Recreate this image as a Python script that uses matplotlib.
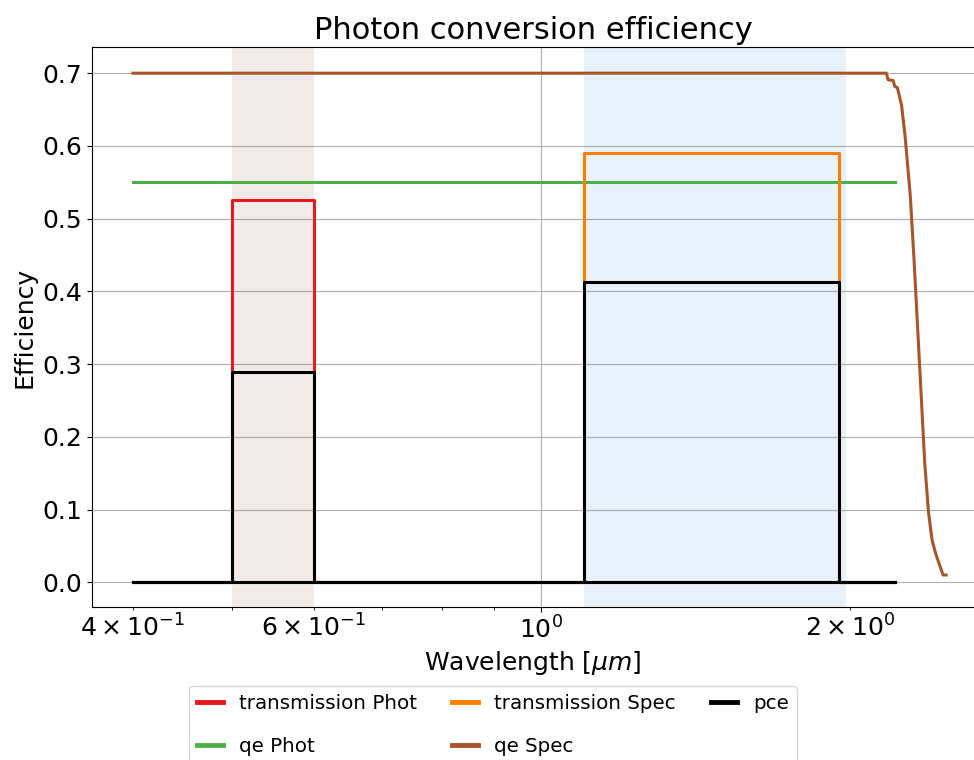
import numpy as np
import matplotlib
matplotlib.use("Agg")
import matplotlib.pyplot as plt

# filter bands [um]
phot_band = (0.5, 0.6)
spec_band = (1.1, 1.98)

# transmission curves on a common wavelength grid [um]
wl = [0.4, 0.5, 0.5, 0.6, 0.6, 1.1, 1.1, 1.95, 1.95, 2.21]
trans_phot = [0, 0, 0.525, 0.525, 0, 0, 0, 0, 0, 0]
trans_spec = [0, 0, 0, 0, 0, 0, 0.59, 0.59, 0, 0]
qe_phot = [0.55] * len(wl)
qe_spec_grid = [0.7] * len(wl)

# detector qe for the spectrometer, with cutoff
wl_qe_spec = [0.4, 2.169, 2.177, 2.202, 2.210, 2.223, 2.244, 2.262, 2.288, 2.307,
              2.326, 2.345, 2.364, 2.384, 2.403, 2.423, 2.449, 2.463, 2.48]
qe_spec = [0.70, 0.70, 0.691, 0.690, 0.682, 0.680, 0.656, 0.613, 0.533, 0.447,
           0.352, 0.257, 0.163, 0.096, 0.058, 0.039, 0.020, 0.010, 0.010]

pce_phot = np.array(trans_phot) * np.array(qe_phot)
pce_spec = np.array(trans_spec) * np.array(qe_spec_grid)

fig = plt.figure(figsize=(9.74, 7.6), dpi=100)
ax = fig.add_axes([92 / 974, 1 - 607 / 760, 1 - 92 / 974, (607 - 47) / 760])

ax.axvspan(*phot_band, color='#8c564b', alpha=0.12, lw=0)
ax.axvspan(*spec_band, color='#1f77b4', alpha=0.1, lw=0)

ax.plot(wl, trans_phot, color='#e41a1c', lw=2.2, label='transmission Phot')
ax.plot(wl, qe_phot, color='#4daf4a', lw=2.2, label='qe Phot')
ax.plot(wl, trans_spec, color='#ff7f00', lw=2.2, label='transmission Spec')
ax.plot(wl_qe_spec, qe_spec, color='#a65628', lw=2.2, label='qe Spec')
ax.plot(wl, pce_phot, color='black', lw=2.2, label='pce')
ax.plot(wl, pce_spec, color='black', lw=2.2)

ax.set_xscale('log')
ax.set_xlim(0.365, 2.64)
ax.set_ylim(-0.034, 0.736)
ax.grid(True, color='#b0b0b0', lw=0.8)
ax.set_axisbelow(True)
ax.spines['right'].set_visible(False)

ax.tick_params(axis='both', which='both', labelsize=18)
ax.set_xlabel(r'Wavelength [$\mu m$]', fontsize=18)
ax.set_ylabel('Efficiency', fontsize=18)
ax.set_title('Photon conversion efficiency', fontsize=22)

leg = fig.legend(loc='upper center', bbox_to_anchor=(0.506, 0.11), ncol=3, fontsize=14.3,
                 labelspacing=1.2, columnspacing=1.8, handlelength=1.3, handletextpad=0.8)
for h in leg.legend_handles:
    h.set_linewidth(3.5)

fig.savefig('out.png', dpi=100)
